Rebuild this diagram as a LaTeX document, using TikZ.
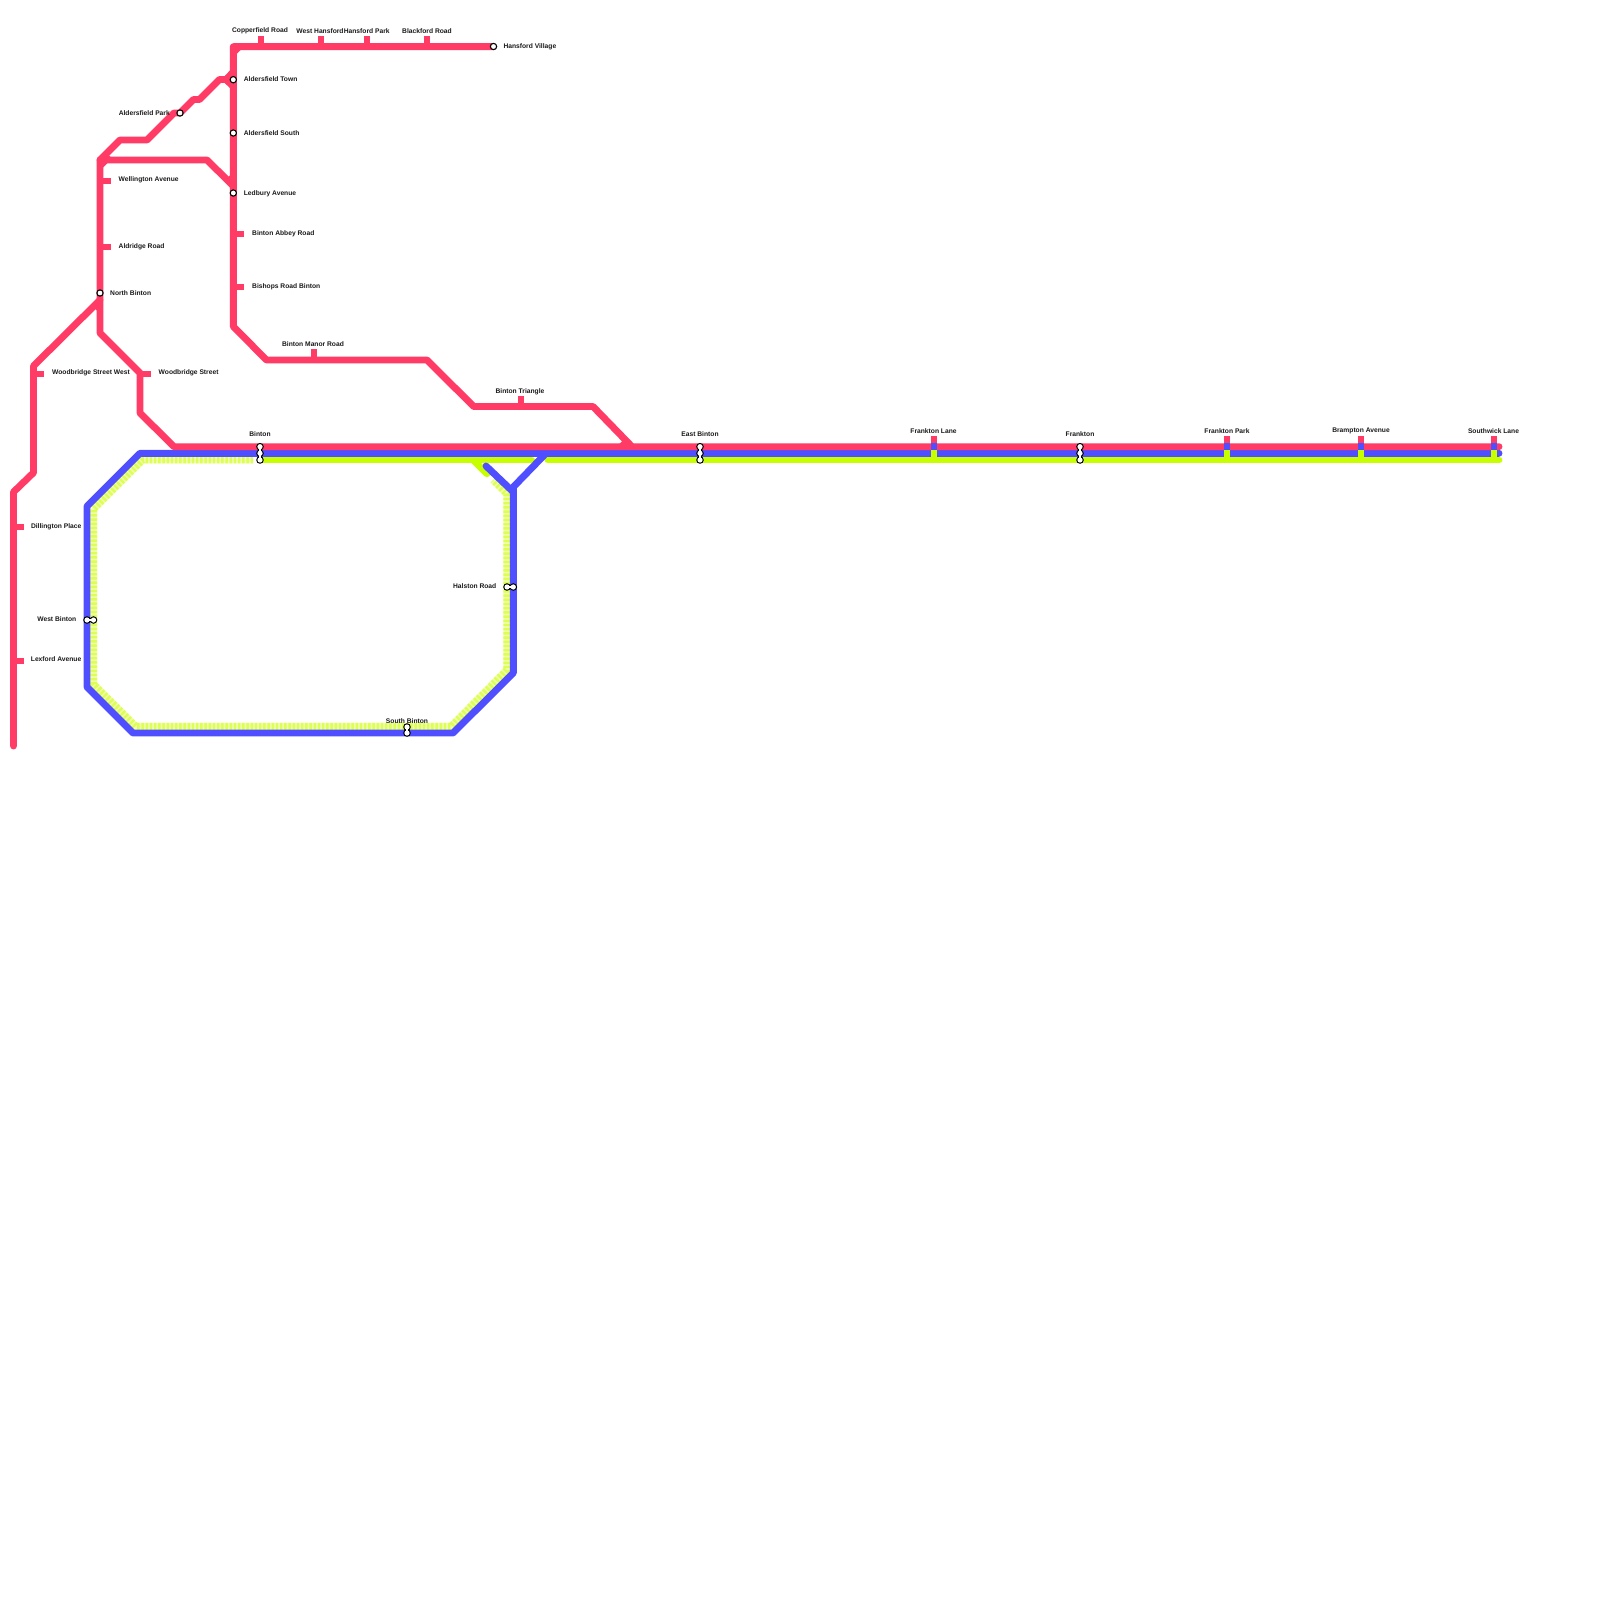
\documentclass[tikz,border=0pt]{standalone}
\usepackage{fontspec}
\setmainfont{Liberation Sans}
\usetikzlibrary{arrows.meta, positioning, calc}
\definecolor{cred}{HTML}{FF3B66}
\definecolor{cblue}{HTML}{4F4FFF}
\definecolor{clime}{HTML}{C8FF00}
\definecolor{cpale}{HTML}{F0FFA8}
\definecolor{cstripe}{HTML}{DDFF55}
\tikzset{
  every picture/.style={x=1pt, y=-1pt},
  track/.style={draw=#1, line width=6.9pt, line join=round, line cap=round},
  track/.default=cred,
  pale/.style={draw=cpale, line width=6.9pt, line join=miter},
  stripes/.style={draw=cstripe, line width=6.9pt, line join=miter, dash pattern=on 2.4pt off 1.8pt},
  tick/.style={draw=#1, line width=6pt},
  tick/.default=cred,
  stn/.style={circle, draw=black, fill=white, line width=1.1pt, minimum size=6.3pt, inner sep=0pt},
  stnout/.style={circle, fill=black, minimum size=7.6pt, inner sep=0pt},
  stnin/.style={circle, fill=white, minimum size=5.2pt, inner sep=0pt},
  linkout/.style={draw=black, line width=4.6pt},
  linkin/.style={draw=white, line width=2.2pt},
  lbl/.style={font=\bfseries\fontsize{6.7}{8}\selectfont, text=black!90, inner sep=0pt, yshift=-0.3pt},
}
% marker across all three lines
\newcommand{\crossing}[1]{
  \draw[tick] (#1,436) -- (#1,443.3);
  \draw[tick=cblue] (#1,443.3) -- (#1,450);
  \draw[tick=clime] (#1,450) -- (#1,456.7);}
% three circles on the main line
\newcommand{\threestn}[2]{
  \node[stnout] (#2a) at (#1,446.7) {};
  \node[stnout] (#2b) at (#1,453.3) {};
  \node[stnout] (#2c) at (#1,460) {};
  \draw[linkout] (#2a.center) -- (#2c.center);
  \node[stnin] at (#2a) {};
  \node[stnin] at (#2b) {};
  \node[stnin] at (#2c) {};
  \draw[linkin] (#2a.center) -- (#2c.center);}
% two circles side by side
\newcommand{\twostn}[5]{
  \node[stnout] (#1a) at (#2,#3) {};
  \node[stnout] (#1b) at (#4,#5) {};
  \draw[linkout] (#1a.center) -- (#1b.center);
  \node[stnin] at (#1a) {};
  \node[stnin] at (#1b) {};
  \draw[linkin] (#1a.center) -- (#1b.center);}

\begin{document}
\begin{tikzpicture}
  \useasboundingbox (0,0) rectangle (1600,1600);
  % pale lime loop
  \coordinate (pa) at (253,460);
  \coordinate (pb) at (142.7,460);
  \coordinate (pc) at (93.7,509);
  \coordinate (pd) at (93.7,684.3);
  \coordinate (pe) at (135.7,726.3);
  \coordinate (pf) at (451,726.3);
  \coordinate (pg) at (506.7,670);
  \coordinate (ph) at (506.7,493.7);
  \coordinate (pi) at (493,480);
  \draw[pale] (pa) -- (pb) -- (pc) -- (pd) -- (pe) -- (pf) -- (pg) -- (ph) -- (pi);
  \draw[stripes] (pa) -- (pb) -- (pc) -- (pd) -- (pe) -- (pf) -- (pg) -- (ph) -- (pi);
  % lime
  \draw[track=clime] (262,460) -- (531.7,460);
  \draw[track=clime] (548,460) -- (1499,460);
  \draw[track=clime] (473.3,460) -- (487,473.7);
  % blue
  \draw[track=cblue] (1499,453.3) -- (140,453.3) -- (87,506.3) -- (87,687) -- (133,733) -- (453,733) -- (513.3,673) -- (513.3,487) -- (546,453.3);
  \draw[track=cblue] (486,466) -- (513.3,492);
  % red, main line and branch
  \draw[track] (1499,446.7) -- (174,446.7) -- (140,413) -- (140,373) -- (100,333) -- (100,160) -- (120,140) -- (147,140) -- (174,113) -- (180,113) -- (193.5,99.5) -- (199.5,99.5) -- (219.5,79.5) -- (226,79.5) -- (233.3,72);
  \draw[track] (226,79.5) -- (233.3,86.5);
  \draw[track] (100,160) -- (207,160) -- (233.3,186);
  \draw[track] (493.5,46.7) -- (233.3,46.7) -- (233.3,326.5) -- (266.5,360) -- (427,360) -- (473.7,406.5) -- (593,406.5) -- (632,446.7);
  \draw[track] (100,300) -- (33.5,366) -- (33.5,472.7) -- (13.5,492) -- (13.5,746);
  % small fillets at the junctions
  \draw[cred, line width=5pt] (240,47) -- (234,53);
  \draw[cred, line width=5pt] (227,182) -- (233,176);
  \draw[cred, line width=5pt] (104,154) -- (110,160);
  \draw[cred, line width=5pt] (101,166) -- (107,160);
  \draw[cred, line width=5pt] (95,305) -- (100,310);
  \draw[cred, line width=5pt] (620,446.7) -- (626,441);
  % stubs
  \foreach \x/\y in {100/181, 100/247, 233.3/234, 233.3/287, 33.5/374, 140/374, 13.5/527, 13.5/660.7}
    \draw[tick] (\x,\y) -- (\x+10.5,\y);
  \foreach \x/\y in {261/47, 321/47, 367/47, 427.3/47, 314/360, 521/406.5}
    \draw[tick] (\x,\y) -- (\x,\y-11);
  % markers over the main line
  \crossing{934}
  \crossing{1227}
  \crossing{1361}
  \crossing{1494}
  % interchanges
  \threestn{260}{binton}
  \threestn{700}{eastbinton}
  \threestn{1080}{frankton}
  \twostn{westbinton}{87}{620}{93.5}{620}
  \twostn{halston}{507}{587}{513.3}{587}
  \twostn{southbinton}{407}{727}{407}{733}
  % stations
  \foreach \n/\x/\y in {hansfordvillage/493.5/46.5, aldersfieldtown/233.3/79.7, aldersfieldsouth/233.3/133, ledbury/233.3/193, northbinton/100/293, aldersfieldpark/180/113}
    \node[stn] (\n) at (\x,\y) {};
  % labels to the right
  \foreach \x/\y/\t [count=\i] in {503.3/46/Hansford Village, 243.7/79/Aldersfield Town, 243.7/133/Aldersfield South, 243.7/193/Ledbury Avenue, 252/233/Binton Abbey Road, 252/286/Bishops Road Binton, 118.5/179.5/Wellington Avenue, 118.5/246/Aldridge Road, 110/293/North Binton, 52/372.7/Woodbridge Street West, 158.5/372.7/Woodbridge Street}
    \node[lbl, anchor=west] (r\i) at (\x,\y) {\t};
  % labels to the left
  \foreach \x/\y/\t [count=\i] in {170/113/Aldersfield Park, 81.5/526/Dillington Place, 81.5/659/Lexford Avenue, 76.5/619/West Binton, 496.5/586/Halston Road}
    \node[lbl, anchor=east] (l\i) at (\x,\y) {\t};
  % labels above
  \foreach \x/\y/\t [count=\i] in {260/30.7/Copperfield Road, 320/30.7/West Hansford, 366.7/30.7/Hansford Park, 427/30.7/Blackford Road, 313/344/Binton Manor Road, 520/391/Binton Triangle, 260/434.3/Binton, 700/434.3/East Binton, 933.5/430.7/Frankton Lane, 1080/434.3/Frankton, 1227/430.7/Frankton Park, 1361/430.7/Brampton Avenue, 1493.5/430.7/Southwick Lane, 407/720.5/South Binton}
    \node[lbl] (t\i) at (\x,\y) {\t};
\end{tikzpicture}
\end{document}
